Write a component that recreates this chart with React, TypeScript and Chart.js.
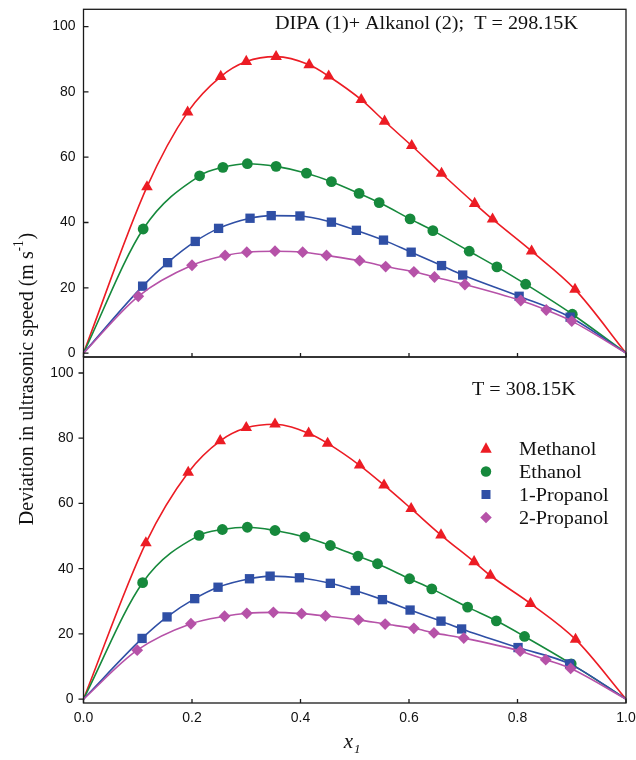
import React, { useEffect, useRef } from "react";
import { Chart, registerables } from "chart.js";

Chart.register(...registerables);

// ---------- data ----------
const seriesNames = ["Methanol", "Ethanol", "1-Propanol", "2-Propanol"];
const xTicks = [0, 0.2, 0.4, 0.6, 0.8, 1.0];
const yTicks = [0, 20, 40, 60, 80, 100];

const topTitle = "DIPA (1)+ Alkanol (2);  T = 298.15K";
const bottomTitle = "T = 308.15K";
const yTitleMain = "Deviation in ultrasonic speed (m s";
const yTitleSup = "-1";

// T = 298.15 K
const methanolX298 = [0, 0.117, 0.192, 0.253, 0.3, 0.355, 0.416, 0.452, 0.512, 0.555, 0.605, 0.66, 0.721, 0.754, 0.826, 0.906, 1.0];
const methanolY298 = [0, 50.9, 73.8, 84.7, 89.3, 90.8, 88.3, 84.8, 77.6, 71.0, 63.5, 55.0, 45.8, 41.0, 31.2, 19.5, 0];
const ethanolX298 = [0, 0.11, 0.214, 0.257, 0.302, 0.355, 0.411, 0.457, 0.508, 0.545, 0.602, 0.644, 0.711, 0.762, 0.815, 0.901, 1.0];
const ethanolY298 = [0, 38.0, 54.3, 56.9, 58.0, 57.2, 55.1, 52.5, 48.9, 46.1, 41.1, 37.5, 31.2, 26.4, 21.1, 11.9, 0];
const propanol1X298 = [0, 0.109, 0.155, 0.206, 0.249, 0.307, 0.346, 0.399, 0.457, 0.503, 0.553, 0.604, 0.66, 0.699, 0.803, 0.897, 1.0];
const propanol1Y298 = [0, 20.5, 27.7, 34.2, 38.2, 41.3, 42.1, 42.0, 40.1, 37.6, 34.6, 30.9, 26.8, 23.9, 17.4, 11.0, 0];
const propanol2X298 = [0, 0.101, 0.2, 0.261, 0.301, 0.353, 0.404, 0.448, 0.509, 0.557, 0.609, 0.647, 0.703, 0.806, 0.853, 0.9, 1.0];
const propanol2Y298 = [0, 17.4, 26.9, 29.9, 30.9, 31.2, 30.9, 29.9, 28.3, 26.5, 24.9, 23.3, 21.0, 16.1, 13.2, 9.8, 0];

// T = 308.15 K
const methanolX308 = [0, 0.115, 0.193, 0.252, 0.3, 0.353, 0.415, 0.45, 0.509, 0.554, 0.604, 0.659, 0.72, 0.75, 0.824, 0.907, 1.0];
const methanolY308 = [0, 47.9, 69.5, 79.2, 83.2, 84.3, 81.5, 78.4, 71.7, 65.6, 58.4, 50.3, 42.1, 37.9, 29.3, 18.3, 0];
const ethanolX308 = [0, 0.109, 0.213, 0.256, 0.302, 0.353, 0.408, 0.455, 0.506, 0.542, 0.601, 0.642, 0.708, 0.761, 0.813, 0.899, 1.0];
const ethanolY308 = [0, 35.7, 50.2, 52.0, 52.7, 51.7, 49.7, 47.1, 43.8, 41.5, 36.9, 33.8, 28.2, 24.0, 19.2, 10.8, 0];
const propanol1X308 = [0, 0.108, 0.154, 0.205, 0.248, 0.306, 0.344, 0.398, 0.455, 0.501, 0.551, 0.602, 0.659, 0.697, 0.801, 0.896, 1.0];
const propanol1Y308 = [0, 18.6, 25.2, 30.8, 34.3, 36.9, 37.7, 37.2, 35.5, 33.3, 30.5, 27.3, 23.9, 21.5, 15.8, 10.8, 0];
const propanol2X308 = [0, 0.099, 0.198, 0.26, 0.301, 0.35, 0.402, 0.446, 0.507, 0.556, 0.609, 0.646, 0.701, 0.805, 0.852, 0.898, 1.0];
const propanol2Y308 = [0, 15.0, 23.1, 25.4, 26.3, 26.6, 26.2, 25.5, 24.3, 23.0, 21.7, 20.3, 18.7, 14.7, 12.1, 9.4, 0];

// ---------- styles ----------
const COLORS = ["#ec1c24", "#16893c", "#2f4fa5", "#b652a8"];
const POINT_STYLES = ["triangle", "circle", "rect", "rectRot"];
const POINT_RADII = [6.7, 5.4, 6.6, 5.9];
const SERIF = "'Liberation Serif', 'Times New Roman', serif";
const SANS = "'Liberation Sans', Arial, sans-serif";
const FRAME = "#1a1a1a";
const TICK_TEXT = "#111";

const Y_MIN = -1.2;
const Y_MAX_TOP = 105.3;
const Y_MAX_BOTTOM = 104.9;
const PLOT_LEFT = 83.5;
const PLOT_RIGHT_PAD = 10;

function makeDatasets(xs: number[][], ys: number[][]) {
  return xs.map((xArr, i) => ({
    label: seriesNames[i],
    data: xArr.map((x, j) => ({ x, y: ys[i][j] })),
    borderColor: COLORS[i],
    backgroundColor: COLORS[i],
    borderWidth: 1.6,
    pointStyle: POINT_STYLES[i],
    pointRadius: xArr.map((x) => (x === 0 || x === 1 ? 0 : POINT_RADII[i])),
    pointHoverRadius: 0,
    pointBorderWidth: 0,
    pointBackgroundColor: COLORS[i],
    cubicInterpolationMode: "monotone" as const,
    clip: false as any,
    order: 3 - i,
  }));
}

function drawText(ctx: CanvasRenderingContext2D, text: string, x: number, y: number, font: string, align: CanvasTextAlign, sx = 1) {
  ctx.save();
  ctx.font = font;
  ctx.fillStyle = "#111";
  ctx.translate(x, y);
  ctx.scale(sx, 1);
  ctx.textAlign = align;
  ctx.textBaseline = "alphabetic";
  ctx.fillText(text, 0, 0);
  ctx.restore();
}

function drawMarker(ctx: CanvasRenderingContext2D, style: string, x: number, y: number, size: number, color: string) {
  ctx.save();
  ctx.fillStyle = color;
  ctx.beginPath();
  if (style === "triangle") {
    const h = size * 0.9;
    ctx.moveTo(x, y - h * 0.6);
    ctx.lineTo(x + size / 2, y + h * 0.4);
    ctx.lineTo(x - size / 2, y + h * 0.4);
    ctx.closePath();
  } else if (style === "circle") {
    ctx.arc(x, y, size / 2, 0, Math.PI * 2);
  } else if (style === "rect") {
    ctx.rect(x - size / 2, y - size / 2, size, size);
  } else {
    ctx.moveTo(x, y - size / 2);
    ctx.lineTo(x + size / 2, y);
    ctx.lineTo(x, y + size / 2);
    ctx.lineTo(x - size / 2, y);
    ctx.closePath();
  }
  ctx.fill();
  ctx.restore();
}

function framePlugin(id: string, yTicksInward: boolean, extra: (chart: any) => void) {
  return {
    id,
    afterDraw(chart: any) {
      const ctx: CanvasRenderingContext2D = chart.ctx;
      const { left, right, top, bottom } = chart.chartArea;
      const xs = chart.scales.x;
      const ys = chart.scales.y;
      ctx.save();
      ctx.strokeStyle = FRAME;
      ctx.lineWidth = 1.3;
      ctx.strokeRect(left, top, right - left, bottom - top);
      ctx.beginPath();
      const tl = 5;
      yTicks.forEach((v) => {
        const py = ys.getPixelForValue(v);
        if (yTicksInward) {
          ctx.moveTo(left, py);
          ctx.lineTo(left + tl, py);
        } else {
          ctx.moveTo(left - tl, py);
          ctx.lineTo(left, py);
        }
      });
      xTicks.forEach((v) => {
        const px = xs.getPixelForValue(v);
        ctx.moveTo(px, bottom);
        ctx.lineTo(px, bottom - 4);
      });
      ctx.stroke();
      ctx.restore();
      extra(chart);
    },
  };
}

function baseOptions(yMax: number, padTop: number, xHeight: number, showXLabels: boolean, yPad: number) {
  return {
    responsive: false,
    maintainAspectRatio: false,
    animation: false as const,
    events: [] as any[],
    layout: { padding: { top: padTop, right: PLOT_RIGHT_PAD, bottom: 0, left: 0 } },
    plugins: {
      legend: { display: false },
      tooltip: { enabled: false },
      title: { display: false },
    },
    scales: {
      x: {
        type: "linear" as const,
        min: 0,
        max: 1,
        afterBuildTicks: (s: any) => {
          s.ticks = xTicks.map((v) => ({ value: v }));
        },
        afterFit: (s: any) => {
          s.height = xHeight;
          s.paddingLeft = 0;
          s.paddingRight = 0;
          s.paddingTop = 0;
          s.paddingBottom = 0;
        },
        grid: { display: false, drawTicks: false },
        border: { display: false },
        ticks: {
          display: showXLabels,
          padding: 7,
          color: TICK_TEXT,
          font: { family: SANS, size: 14 },
          maxRotation: 0,
          callback: (v: any) => Number(v).toFixed(1),
        },
      },
      y: {
        type: "linear" as const,
        min: Y_MIN,
        max: yMax,
        afterBuildTicks: (s: any) => {
          s.ticks = yTicks.map((v) => ({ value: v }));
        },
        afterFit: (s: any) => {
          s.width = PLOT_LEFT;
          s.paddingLeft = 0;
          s.paddingRight = 0;
          s.paddingTop = 0;
          s.paddingBottom = 0;
        },
        grid: { display: false, drawTicks: false },
        border: { display: false },
        ticks: {
          padding: yPad,
          color: TICK_TEXT,
          font: { family: SANS, size: 14 },
          callback: (v: any) => String(v),
        },
      },
    },
  };
}

export default function App() {
  const topRef = useRef<HTMLCanvasElement>(null);
  const botRef = useRef<HTMLCanvasElement>(null);

  useEffect(() => {
    const topChart = new Chart(topRef.current!, {
      type: "line",
      data: {
        datasets: makeDatasets(
          [methanolX298, ethanolX298, propanol1X298, propanol2X298],
          [methanolY298, ethanolY298, propanol1Y298, propanol2Y298]
        ) as any,
      },
      options: baseOptions(Y_MAX_TOP, 9.3, 23, false, 8) as any,
      plugins: [
        framePlugin("frameTop", true, (chart) => {
          const ctx = chart.ctx as CanvasRenderingContext2D;
          drawText(ctx, topTitle, 578, 29, `18px ${SERIF}`, "right", 1.12);
        }),
      ],
    });

    const botChart = new Chart(botRef.current!, {
      type: "line",
      data: {
        datasets: makeDatasets(
          [methanolX308, ethanolX308, propanol1X308, propanol2X308],
          [methanolY308, ethanolY308, propanol1Y308, propanol2Y308]
        ) as any,
      },
      options: baseOptions(Y_MAX_BOTTOM, 357, 57, true, 10) as any,
      plugins: [
        framePlugin("frameBottom", false, (chart) => {
          const ctx = chart.ctx as CanvasRenderingContext2D;
          drawText(ctx, bottomTitle, 472, 395, `18px ${SERIF}`, "left", 1.12);
          // legend
          const rows = [448.5, 471.5, 494.5, 517.5];
          const sizes = [11.5, 10.5, 9, 11.5];
          seriesNames.forEach((name, i) => {
            drawMarker(ctx, POINT_STYLES[i], 486, rows[i], sizes[i], COLORS[i]);
            drawText(ctx, name, 519, rows[i] + 6, `18px ${SERIF}`, "left", 1.12);
          });
          // y title (rotated)
          ctx.save();
          ctx.fillStyle = "#111";
          ctx.translate(33, 379);
          ctx.scale(1.1, 1);
          ctx.rotate(-Math.PI / 2);
          ctx.font = `20px ${SERIF}`;
          const wMain = ctx.measureText(yTitleMain).width;
          ctx.font = `13px ${SERIF}`;
          const wSup = ctx.measureText(yTitleSup).width;
          ctx.font = `20px ${SERIF}`;
          const wClose = ctx.measureText(")").width;
          const total = wMain + wSup + 1 + wClose;
          let cx = -total / 2;
          ctx.textAlign = "left";
          ctx.textBaseline = "alphabetic";
          ctx.fillText(yTitleMain, cx, 0);
          cx += wMain;
          ctx.font = `13px ${SERIF}`;
          ctx.fillText(yTitleSup, cx, -9);
          cx += wSup + 1;
          ctx.font = `20px ${SERIF}`;
          ctx.fillText(")", cx, 0);
          ctx.restore();
          // x title
          drawText(ctx, "x", 353, 748, `italic 21px ${SERIF}`, "right", 1);
          drawText(ctx, "1", 354, 753, `italic 13px ${SERIF}`, "left", 1);
        }),
      ],
    });

    return () => {
      topChart.destroy();
      botChart.destroy();
    };
  }, []);

  return (
    <div style={{ position: "relative", width: 636, height: 760, background: "#fff" }}>
      <style>{`body{margin:0;background:#fff;}`}</style>
      <canvas ref={topRef} width={636} height={380} style={{ position: "absolute", left: 0, top: 0 }} />
      <canvas ref={botRef} width={636} height={760} style={{ position: "absolute", left: 0, top: 0 }} />
    </div>
  );
}
